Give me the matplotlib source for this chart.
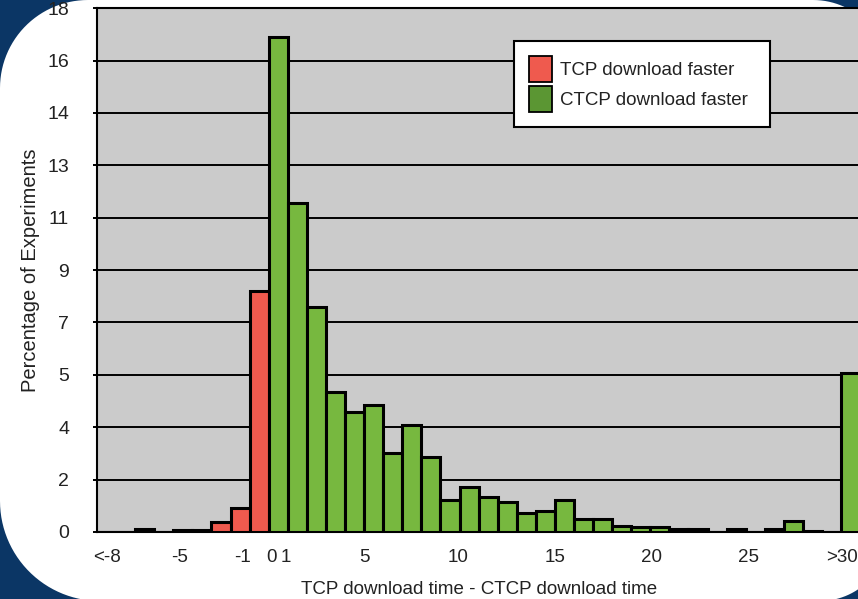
import numpy as np
import matplotlib
matplotlib.use("Agg")
import matplotlib.pyplot as plt
from matplotlib.patches import Patch, PathPatch
from matplotlib.path import Path

# Bins are one second wide; each bin is placed by its lower edge.
# "<-8" sits at -9 and ">30" at 30.
tcp_edges = [-9, -8, -7, -6, -5, -4, -3, -2, -1]
tcp_pct = [0, 0, 0.10, 0, 0.08, 0.08, 0.34, 0.82, 8.29]

ctcp_edges = list(range(0, 31))
ctcp_pct = [17.0, 11.3, 7.73, 4.82, 4.12, 4.38, 2.71, 3.67, 2.59, 1.09,
            1.53, 1.21, 1.04, 0.64, 0.73, 1.10, 0.45, 0.45, 0.22, 0.18,
            0.18, 0.10, 0.10, 0, 0.10, 0, 0.10, 0.39, 0.04, 0,
            5.45]

x_tick_pos = [-8.5, -4.65, -1.35, 0.15, 0.9, 5, 9.9, 15, 20.05, 25.15, 30.05]
x_tick_labels = ["<-8", "-5", "-1", "0", "1", "5", "10", "15", "20", "25", ">30"]

y_tick_pos = [0, 1.8, 3.6, 5.4, 7.2, 9.0, 10.8, 12.6, 14.4, 16.2, 18.0]
y_tick_labels = ["0", "2", "4", "5", "7", "9", "11", "13", "14", "16", "18"]

RED = "#ef5a4e"
GREEN = "#77b83f"
GREEN_KEY = "#5b9633"
NAVY = "#0b3665"
TEXT = "#222222"

W, H = 858, 599


def rounded_panel(left, top, right, bottom, r_tl, r_tr, r_br, r_bl):
    """White slide panel with a different radius on each corner (pixel coords, y down)."""
    def arc(cx, cy, r, a0, a1):
        t = np.radians(np.linspace(a0, a1, 30))
        return list(zip(cx + r * np.cos(t), cy - r * np.sin(t)))

    pts = []
    pts += arc(left + r_tl, top + r_tl, r_tl, 180, 90)
    pts += arc(right - r_tr, top + r_tr, r_tr, 90, 0)
    pts += arc(right - r_br, bottom - r_br, r_br, 0, -90)
    pts += arc(left + r_bl, bottom - r_bl, r_bl, -90, -180)
    pts = [(x / W, 1 - y / H) for x, y in pts]
    pts.append(pts[0])
    return Path(pts, closed=True)


def main():
    plt.rcParams["font.family"] = ["Liberation Sans", "DejaVu Sans"]

    fig = plt.figure(figsize=(W / 100, H / 100), dpi=100, facecolor=NAVY)
    panel = PathPatch(rounded_panel(0, 0, 888, 601, 88, 75, 68, 100),
                      transform=fig.transFigure, facecolor="white",
                      edgecolor="none", zorder=-5)
    fig.add_artist(panel)

    ax = fig.add_axes([97 / W, (H - 532) / H, (W - 97) / W, (532 - 8.2) / H])
    ax.set_facecolor("#cbcbcb")

    ax.bar(tcp_edges, tcp_pct, width=1, align="edge", color=RED,
           edgecolor="black", linewidth=2.2, zorder=3)
    ax.bar(ctcp_edges, ctcp_pct, width=1, align="edge", color=GREEN,
           edgecolor="black", linewidth=2.2, zorder=3)

    ax.set_xlim(-9, -9 + (W - 97) / 19.08)
    ax.set_ylim(0, 18)

    ax.set_yticks(y_tick_pos)
    ax.set_yticklabels(y_tick_labels)
    ax.set_xticks(x_tick_pos)
    ax.set_xticklabels(x_tick_labels)
    ax.tick_params(axis="y", length=3, width=1.4, pad=17,
                   labelsize=14, labelcolor=TEXT)
    ax.tick_params(axis="x", length=0, pad=12.5, labelsize=13.5,
                   labelcolor=TEXT)

    ax.yaxis.grid(True, color="black", linewidth=1.4)
    ax.set_axisbelow(True)
    for side in ["left", "bottom", "top"]:
        ax.spines[side].set_linewidth(1.5)
    ax.spines["right"].set_visible(False)

    fig.text(479.5 / W, 1 - 589 / H, "TCP download time - CTCP download time",
             ha="center", va="center", fontsize=13.5, color=TEXT)
    fig.text(30 / W, 1 - 270 / H, "Percentage of Experiments",
             ha="center", va="center", rotation=90, fontsize=14.5, color=TEXT)

    handles = [
        Patch(facecolor=RED, edgecolor="black", linewidth=1.3,
              label="TCP download faster"),
        Patch(facecolor=GREEN_KEY, edgecolor="black", linewidth=1.3,
              label="CTCP download faster"),
    ]
    leg = ax.legend(handles=handles, loc="upper left", mode="expand",
                    bbox_to_anchor=(514 / W, 1 - 128 / H, 256 / W, 87 / H),
                    bbox_transform=fig.transFigure, borderaxespad=0,
                    fontsize=13.5, handlelength=1.25, handleheight=1.75,
                    handletextpad=0.4, labelspacing=0.2, borderpad=0.8,
                    fancybox=False, framealpha=1)
    leg.get_frame().set_edgecolor("black")
    leg.get_frame().set_linewidth(1.5)
    for t in leg.get_texts():
        t.set_color(TEXT)
    leg.set_zorder(10)

    fig.savefig("out.png", dpi=100, facecolor=NAVY)
    plt.close(fig)


if __name__ == "__main__":
    main()
